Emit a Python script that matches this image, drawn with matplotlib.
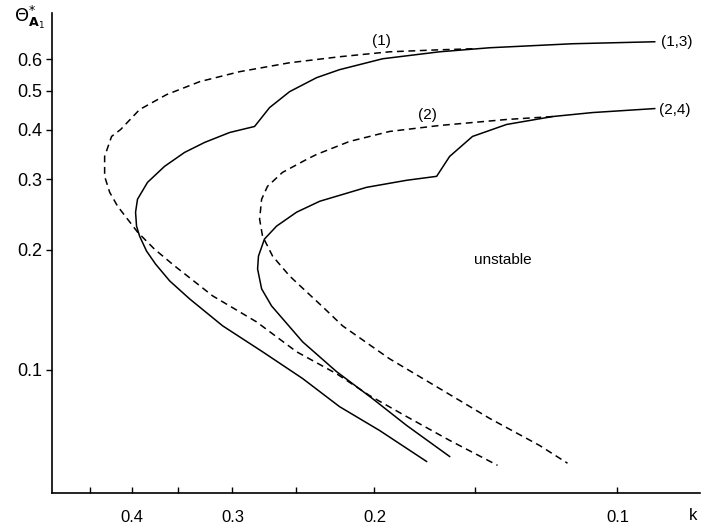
import matplotlib
matplotlib.use("Agg")
import matplotlib.pyplot as plt
from matplotlib.ticker import FixedLocator, FixedFormatter, NullLocator

# curve (1): dashed, from the top right end round the nose to the bottom
k_dash1 = [0.1512, 0.1661, 0.1916, 0.2210, 0.2548, 0.2939, 0.3294, 0.3620, 0.3910,
           0.4127, 0.4235, 0.4320, 0.4320, 0.4258, 0.4163, 0.4046, 0.3933, 0.3747,
           0.3537, 0.3174, 0.2801, 0.2498, 0.2229, 0.2028, 0.1825, 0.1614, 0.1408]
th_dash1 = [0.6375, 0.6339, 0.6266, 0.6089, 0.5882, 0.5586, 0.5273, 0.4893, 0.4488,
            0.4000, 0.3843, 0.3424, 0.3052, 0.2783, 0.2568, 0.2383, 0.2212, 0.2004,
            0.1818, 0.1530, 0.1317, 0.1108, 0.0976, 0.0860, 0.0762, 0.0664, 0.0575]

# curve (1,3): solid
k_sol13 = [0.0899, 0.1137, 0.1440, 0.1661, 0.1954, 0.2210, 0.2359, 0.2548, 0.2698,
           0.2816, 0.3023, 0.3247, 0.3438, 0.3641, 0.3822, 0.3933, 0.3955, 0.3944,
           0.3910, 0.3833, 0.3736, 0.3588, 0.3390, 0.3085, 0.2753, 0.2455, 0.2210,
           0.1971, 0.1724]
th_sol13 = [0.6640, 0.6564, 0.6414, 0.6266, 0.6019, 0.5651, 0.5397, 0.4978, 0.4540,
            0.4071, 0.3932, 0.3713, 0.3505, 0.3233, 0.2948, 0.2674, 0.2481, 0.2289,
            0.2161, 0.1982, 0.1839, 0.1668, 0.1504, 0.1287, 0.1108, 0.0949, 0.0807,
            0.0703, 0.0588]

# curve (2): dashed
k_dash2 = [0.1203, 0.1372, 0.1661, 0.1916, 0.2148, 0.2359, 0.2427, 0.2600, 0.2714,
           0.2760, 0.2776, 0.2753, 0.2675, 0.2548, 0.2427, 0.2325, 0.2191, 0.1916,
           0.1661, 0.1440, 0.1249, 0.1153]
th_dash2 = [0.4311, 0.4238, 0.4094, 0.3955, 0.3733, 0.3464, 0.3366, 0.3123, 0.2881,
            0.2674, 0.2383, 0.2161, 0.1925, 0.1716, 0.1565, 0.1444, 0.1287, 0.1064,
            0.0896, 0.0754, 0.0645, 0.0582]

# curve (2,4): solid
k_sol24 = [0.0899, 0.1074, 0.1203, 0.1372, 0.1512, 0.1614, 0.1675, 0.1825, 0.2046,
           0.2338, 0.2498, 0.2645, 0.2738, 0.2785, 0.2792, 0.2760, 0.2683, 0.2455,
           0.2229, 0.2011, 0.1825, 0.1614]
th_sol24 = [0.4514, 0.4411, 0.4311, 0.4118, 0.3843, 0.3424, 0.3052, 0.2983, 0.2864,
            0.2643, 0.2481, 0.2289, 0.2124, 0.1925, 0.1787, 0.1593, 0.1444, 0.1173,
            0.0988, 0.0845, 0.0724, 0.0605]

x_major = [0.4, 0.3, 0.2, 0.1]
x_labels = ["0.4", "0.3", "0.2", "0.1"]
x_minor = [0.45, 0.35, 0.25, 0.15]
y_ticks = [0.1, 0.2, 0.3, 0.4, 0.5, 0.6]
y_labels = ["0.1", "0.2", "0.3", "0.4", "0.5", "0.6"]

plt.rcParams["font.family"] = ["Liberation Sans", "DejaVu Sans"]

fig = plt.figure(figsize=(7.1, 5.27), dpi=100)
ax = fig.add_axes([52 / 710, 34 / 527, 648 / 710, 480 / 527])

dash = (0, (4.5, 3.0))
lw = 1.1
ax.plot(k_dash1, th_dash1, color="black", lw=lw, linestyle=dash)
ax.plot(k_sol13, th_sol13, color="black", lw=lw)
ax.plot(k_dash2, th_dash2, color="black", lw=lw, linestyle=dash)
ax.plot(k_sol24, th_sol24, color="black", lw=lw)

ax.set_xscale("log")
ax.set_yscale("log")
ax.set_xlim(0.502, 0.079)
ax.set_ylim(0.049, 0.784)

ax.xaxis.set_major_locator(FixedLocator(x_major))
ax.xaxis.set_major_formatter(FixedFormatter(x_labels))
ax.xaxis.set_minor_locator(FixedLocator(x_minor))
ax.xaxis.set_minor_formatter(FixedFormatter(["", "", "", ""]))
ax.yaxis.set_major_locator(FixedLocator(y_ticks))
ax.yaxis.set_major_formatter(FixedFormatter(y_labels))
ax.yaxis.set_minor_locator(NullLocator())

ax.tick_params(axis="x", which="both", direction="in", length=4, width=1,
               labelsize=12, pad=12)
ax.tick_params(axis="y", which="both", direction="out", length=4, width=1,
               labelsize=13, pad=3)

for side in ("top", "right"):
    ax.spines[side].set_visible(False)
for side in ("left", "bottom"):
    ax.spines[side].set_linewidth(1.2)

ax.text(-0.035, 0.99, r"$\mathrm{\Theta}^{*}_{\mathbf{A}_1}$", transform=ax.transAxes,
        fontsize=13, ha="center", va="center")
ax.text(0.989, -0.046, "k", transform=ax.transAxes, fontsize=12,
        ha="center", va="center")

ax.text(0.509, 0.942, "(1)", transform=ax.transAxes, fontsize=11,
        ha="center", va="center")
ax.text(0.940, 0.940, "(1,3)", transform=ax.transAxes, fontsize=11,
        ha="left", va="center")
ax.text(0.579, 0.787, "(2)", transform=ax.transAxes, fontsize=11,
        ha="center", va="center")
ax.text(0.937, 0.798, "(2,4)", transform=ax.transAxes, fontsize=11,
        ha="left", va="center")
ax.text(0.696, 0.485, "unstable", transform=ax.transAxes, fontsize=11,
        ha="center", va="center")

fig.savefig("out.png", dpi=100)
